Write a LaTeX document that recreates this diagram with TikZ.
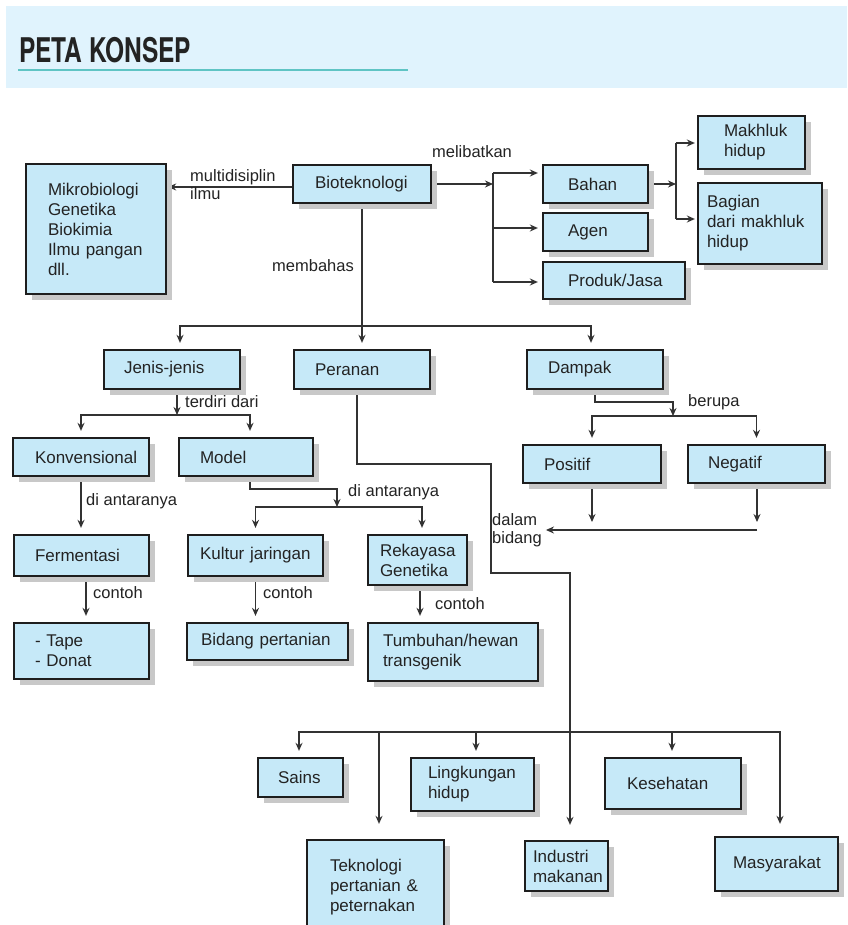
\documentclass[tikz,border=0pt]{standalone}
\usepackage{fontspec}
\setmainfont{Liberation Sans}
\newfontfamily\judulfont{TeX Gyre Heros}
\usetikzlibrary{arrows.meta,shadows}
\definecolor{isian}{RGB}{198,233,248}
\definecolor{pita}{RGB}{224,243,253}
\definecolor{bingkai}{RGB}{30,30,30}
\definecolor{bayang}{RGB}{200,200,200}
\definecolor{garis}{RGB}{50,50,50}
\definecolor{tosca}{RGB}{95,196,196}
\definecolor{teks}{RGB}{35,35,35}
\pgfdeclarelayer{edgelayer}
\pgfdeclarelayer{nodelayer}
\pgfsetlayers{edgelayer,nodelayer,main}
\tikzstyle{konsep}=[draw=bingkai, line width=2.3pt, fill=isian, text=teks, align=left, inner ysep=2pt, font=\fontsize{17}{20}\selectfont, drop shadow={shadow xshift=6pt, shadow yshift=-6pt, fill=bayang, opacity=1}]
\tikzstyle{keterangan}=[text=teks, align=left, inner sep=0pt, font=\fontsize{16.5}{18}\selectfont]
\tikzstyle{sambung}=[draw=garis, line width=1.3pt]
\tikzstyle{panahsimpul}=[sambung, -{Stealth[length=8pt, width=7pt]}]
\tikzstyle{panah}=[panahsimpul, shorten >=6pt]

\begin{document}
\begin{tikzpicture}[x=1pt, y=-1pt]
	\useasboundingbox (0, 0) rectangle (847, 925);
				\begin{pgfonlayer}{nodelayer}
					\node [anchor=west, inner sep=0pt, text=teks, font=\judulfont\bfseries\fontsize{34}{34}\selectfont] (judul) at (19, 50.5) {\scalebox{0.72}[1]{PETA KONSEP}};
					\node [style=konsep, text width=94pt, inner xsep=22pt, minimum height=38pt] (bio) at (362, 184) {Bioteknologi};
					\node [style=konsep, text width=96pt, inner xsep=22pt, minimum height=130pt] (ilmu) at (96, 229) {Mikrobiologi\\Genetika\\Biokimia\\Ilmu~pangan\\dll.};
					\node [style=konsep, text width=55pt, inner xsep=25pt, minimum height=38pt] (bahan) at (595.5, 184) {Bahan};
					\node [style=konsep, text width=55pt, inner xsep=25pt, minimum height=38pt] (agen) at (595.5, 232) {Agen};
					\node [style=konsep, text width=92pt, inner xsep=25pt, minimum height=37pt] (produk) at (614, 280.5) {Produk/Jasa};
					\node [style=konsep, text width=55pt, inner xsep=26pt, minimum height=53pt] (makhluk) at (751.5, 142.5) {Makhluk\\hidup};
					\node [style=konsep, text width=106pt, inner xsep=9pt, minimum height=81pt] (bagian) at (760, 223.5) {Bagian\\dari~makhluk\\hidup};
					\node [style=konsep, text width=96pt, inner xsep=20pt, minimum height=39pt] (jenis) at (172, 369.5) {Jenis-jenis};
					\node [style=konsep, text width=94pt, inner xsep=21pt, minimum height=39pt] (peranan) at (362, 369.5) {Peranan};
					\node [style=konsep, text width=94pt, inner xsep=21pt, minimum height=39pt] (dampak) at (595, 369.5) {Dampak};
					\node [style=konsep, text width=92pt, inner xsep=22pt, minimum height=38pt] (konven) at (81, 457) {Konvensional};
					\node [style=konsep, text width=92pt, inner xsep=21pt, minimum height=38pt] (model) at (246, 457) {Model};
					\node [style=konsep, text width=96pt, inner xsep=21pt, minimum height=38pt] (positif) at (592, 464) {Positif};
					\node [style=konsep, text width=97pt, inner xsep=20pt, minimum height=38pt] (negatif) at (756.5, 464) {Negatif};
					\node [style=konsep, text width=93pt, inner xsep=21pt, minimum height=41pt] (fermen) at (81.5, 555.5) {Fermentasi};
					\node [style=konsep, text width=111pt, inner xsep=12pt, minimum height=41pt] (kultur) at (255.5, 555.5) {Kultur~jaringan};
					\node [style=konsep, text width=75pt, inner xsep=12pt, minimum height=50pt] (rekayasa) at (417.5, 560) {Rekayasa\\Genetika};
					\node [style=konsep, text width=93pt, inner xsep=21pt, minimum height=56pt] (tape) at (81.5, 651) {- Tape\\- Donat};
					\node [style=konsep, text width=133pt, inner xsep=14pt, minimum height=37pt] (bidang) at (267.5, 641.5) {Bidang~pertanian};
					\node [style=konsep, text width=140pt, inner xsep=15pt, minimum height=58pt] (tumbuhan) at (453, 652) {Tumbuhan/hewan\\transgenik};
					\node [style=konsep, text width=45pt, inner xsep=20pt, minimum height=39pt] (sains) at (300.5, 777.5) {Sains};
					\node [style=konsep, text width=89pt, inner xsep=17pt, minimum height=53pt] (lingkungan) at (472.5, 784.5) {Lingkungan\\hidup};
					\node [style=konsep, text width=91pt, inner xsep=23pt, minimum height=95pt] (teknologi) at (375.5, 887.5) {Teknologi\\pertanian~\&\\peternakan};
					\node [style=konsep, text width=67pt, inner xsep=8pt, minimum height=50pt] (industri) at (566.5, 866) {Industri\\makanan};
					\node [style=konsep, text width=92pt, inner xsep=22pt, minimum height=51pt] (kesehatan) at (673, 783.5) {Kesehatan};
					\node [style=konsep, text width=87pt, inner xsep=18pt, minimum height=54pt] (masyarakat) at (776.5, 864) {Masyarakat};
					\node [style=keterangan, anchor=west] (multi) at (190, 185) {multidisiplin\\ilmu};
					\node [style=keterangan] (libat) at (472, 152) {melibatkan};
					\node [style=keterangan, anchor=east] (bahas) at (354, 266) {membahas};
					\node [style=keterangan, anchor=west] (terdiri) at (185, 402) {terdiri dari};
					\node [style=keterangan, anchor=west] (antara1) at (86, 501) {di antaranya};
					\node [style=keterangan, anchor=west] (antara2) at (348, 492) {di antaranya};
					\node [style=keterangan, anchor=west] (berupa) at (688, 402) {berupa};
					\node [style=keterangan, anchor=west] (dalam) at (492, 530) {dalam\\bidang};
					\node [style=keterangan, anchor=west] (contoh1) at (93, 593) {contoh};
					\node [style=keterangan, anchor=west] (contoh2) at (263, 593) {contoh};
					\node [style=keterangan, anchor=west] (contoh3) at (435, 604) {contoh};
				\end{pgfonlayer}
				\begin{pgfonlayer}{edgelayer}
					\fill [white] (0, 0) rectangle (847, 925);
					\fill [pita] (6, 6) rectangle (847, 88);
					\draw [tosca, line width=2pt] (18, 70) -- (408, 70);
					% titik belok dan simpul
					\coordinate (libat1) at (493, 173);
					\coordinate (libat2) at (493, 228);
					\coordinate (libat3) at (493, 282);
					\coordinate (bahan1) at (676, 143);
					\coordinate (bahan2) at (676, 219);
					\coordinate (simpul1) at (362, 326);
					\coordinate (simpul2) at (177, 415);
					\coordinate (tekuk1) at (337, 489);
					\coordinate (simpul3) at (337, 507);
					\coordinate (tekuk2) at (673, 402);
					\coordinate (simpul4) at (673, 416);
					\coordinate (ujung1) at (592, 522);
					\coordinate (ujung2) at (757, 522);
					\coordinate (ujung3) at (dalam.east -| ujung2);
					\coordinate (belok1) at (491, 464);
					\coordinate (belok2) at (570, 573);
					\coordinate (simpul5) at (570, 732);
					% bagian atas
					\draw [style=panah, shorten >=1pt] ([yshift=-3pt]bio.west) -- ([yshift=-3pt]bio.west -| ilmu.east);
					\draw [style=panahsimpul] (bio.east) -- (bio.east -| libat1);
					\draw [style=sambung] (libat1) -- (libat3);
					\draw [style=panah, shorten >=4pt] (libat1) -- (libat1 -| bahan.west);
					\draw [style=panah, shorten >=4pt] (libat2) -- (libat2 -| agen.west);
					\draw [style=panah, shorten >=4pt] (libat3) -- (libat3 -| produk.west);
					\draw [style=panahsimpul] (bahan.east) -- (bahan.east -| bahan1);
					\draw [style=sambung] (bahan1) -- (bahan2);
					\draw [style=panah, shorten >=2pt] (bahan1) -- (bahan1 -| makhluk.west);
					\draw [style=panah, shorten >=2pt] (bahan2) -- (bahan2 -| bagian.west);
					% membahas
					\draw [style=sambung] (bio.south) -- (simpul1);
					\draw [style=panah] (simpul1) -- (peranan.north);
					\draw [style=panah] (simpul1) -| ([xshift=8pt]jenis.north);
					\draw [style=panah] (simpul1) -| ([xshift=-4pt]dampak.north);
					% jenis-jenis
					\draw [style=panahsimpul] ([xshift=5pt]jenis.south) -- (simpul2);
					\draw [style=panah] (simpul2) -| (konven.north);
					\draw [style=panah] (simpul2) -| ([xshift=4pt]model.north);
					\draw [style=panah] (konven.south) -- (konven.south |- fermen.north);
					\draw [style=panahsimpul] ([xshift=4pt]model.south) |- (tekuk1) -- (simpul3);
					\draw [style=panah] (simpul3) -| (kultur.north);
					\draw [style=panah] (simpul3) -| ([xshift=4.5pt]rekayasa.north);
					\draw [style=panah] ([xshift=4.5pt]fermen.south) -- ([xshift=4.5pt]fermen.south |- tape.north);
					\draw [style=panah] (kultur.south) -- (kultur.south |- bidang.north);
					\draw [style=panah] ([xshift=2.5pt]rekayasa.south) -- ([xshift=2.5pt]rekayasa.south |- tumbuhan.north);
					% dampak
					\draw [style=panahsimpul] (dampak.south) |- (tekuk2) -- (simpul4);
					\draw [style=panah] (simpul4) -| (positif.north);
					\draw [style=panah] (simpul4) -| (negatif.north);
					\draw [style=panahsimpul] (positif.south) -- (ujung1);
					\draw [style=panahsimpul] ([xshift=0.5pt]negatif.south) -- (ujung2);
					\draw [style=panah, shorten >=4pt] (ujung3) -- (dalam.east);
					% peranan
					\draw [style=panah, shorten >=15pt] ([xshift=-5pt]peranan.south) |- (belok1) |- (belok2) -- (belok2 |- industri.north);
					\draw [style=panah] (simpul5) -| ([xshift=-1.5pt]sains.north);
					\draw [style=panah, shorten >=15pt] (simpul5) -| ([xshift=3.5pt]teknologi.north);
					\draw [style=panah] (simpul5) -| ([xshift=3.5pt]lingkungan.north);
					\draw [style=panah] (simpul5) -| ([xshift=-1pt]kesehatan.north);
					\draw [style=panah, shorten >=12pt] (simpul5) -| ([xshift=3.5pt]masyarakat.north);
				\end{pgfonlayer}
\end{tikzpicture}
\end{document}
